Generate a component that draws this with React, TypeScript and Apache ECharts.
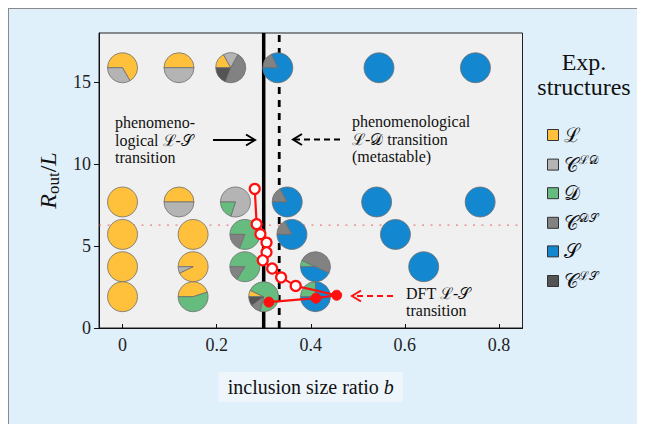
import React, { useEffect, useRef } from "react";
import * as echarts from "echarts";

const FONT = "'Liberation Serif', 'DejaVu Serif', serif";

// Categories (experimental structures)
const categories = ["L", "CLD", "D", "CDS", "S", "CLS"];
const categoryColors = ["#ffc13b", "#b4b4b4", "#66bb7e", "#828282", "#1387cf", "#545454"];
const categoryLabels = [
  "{m|ℒ}",
  "{m|𝒞}{sup|ℒ𝒟}",
  "{m|𝒟}",
  "{m|𝒞}{sup|𝒟𝒮}",
  "{m|𝒮}",
  "{m|𝒞}{sup|ℒ𝒮}",
];

// Pie positions: inclusion size ratio b, R_out/L
const pieB = [0, 0.12, 0.23, 0.33, 0.545, 0.75, 0, 0.12, 0.24, 0.35, 0.54, 0.76, 0, 0.15, 0.26, 0.36, 0.58, 0, 0.15, 0.26, 0.41, 0.64, 0, 0.15, 0.3, 0.41];
const pieR = [15.88, 15.88, 15.88, 15.88, 15.88, 15.88, 7.69, 7.69, 7.69, 7.69, 7.69, 7.69, 5.71, 5.71, 5.71, 5.71, 5.71, 3.74, 3.74, 3.74, 3.74, 3.74, 1.91, 1.91, 1.91, 1.91];

// Pie fractions per structure
const fracL = [0.667, 0.5, 0.17, 0, 0, 0, 1, 0.5, 0, 0, 0, 0, 1, 1, 0, 0, 0, 1, 0.93, 0, 0, 0, 1, 0.45, 0.07, 0];
const fracCLD = [0.333, 0.5, 0.16, 0, 0, 0, 0, 0.5, 0.8, 0, 0, 0, 0, 0, 0, 0, 0, 0, 0.07, 0, 0, 0, 0, 0, 0, 0];
const fracD = [0, 0, 0, 0, 0, 0, 0, 0, 0.2, 0, 0, 0, 0, 0, 0.81, 0, 0, 0, 0, 0.84, 0.07, 0, 0, 0.55, 0.72, 0.25];
const fracCDS = [0, 0, 0.48, 0.18, 0, 0, 0, 0, 0, 0.17, 0, 0, 0, 0, 0.19, 0.17, 0, 0, 0, 0.16, 0.5, 0, 0, 0, 0.11, 0];
const fracS = [0, 0, 0, 0.82, 1, 1, 0, 0, 0, 0.83, 1, 1, 0, 0, 0, 0.83, 1, 0, 0, 0, 0.43, 1, 0, 0, 0, 0.75];
const fracCLS = [0, 0, 0.19, 0, 0, 0, 0, 0, 0, 0, 0, 0, 0, 0, 0, 0, 0, 0, 0, 0, 0, 0, 0, 0, 0.1, 0];

// DFT transition curve
const dftOpenB = [0.281, 0.285, 0.293, 0.306, 0.306, 0.298, 0.318, 0.337, 0.368];
const dftOpenR = [8.49, 6.34, 5.73, 5.21, 4.62, 4.13, 3.63, 3.09, 2.57];
const dftFilledB = [0.455, 0.411, 0.311];
const dftFilledR = [2.0, 1.82, 1.58];

// Transitions and reference line
const solidTransitionB = 0.3;
const dashedTransitionB = 0.333;
const referenceR = 6.28;

// Axes
const xMin = -0.05;
const xMax = 0.85;
const yMin = 0;
const yMax = 18;
const xTicks = [0, 0.2, 0.4, 0.6, 0.8];
const yTicks = [0, 5, 10, 15];

const PIE_RADIUS = 15;

function buildOption() {
  const fracs = [fracL, fracCLD, fracD, fracCDS, fracS, fracCLS];
  const pieSeries = categories.map((cat, k) => {
    const data: number[][] = [];
    pieB.forEach((b, i) => {
      const f = fracs[k][i];
      if (f <= 0) return;
      let total = 0;
      for (let j = 0; j < fracs.length; j++) total += fracs[j][i];
      let start = 0;
      for (let j = 0; j < k; j++) start += fracs[j][i];
      data.push([b, pieR[i], start / total, f / total]);
    });
    return {
      type: "custom",
      name: cat,
      coordinateSystem: "cartesian2d",
      z: 3,
      silent: true,
      itemStyle: { color: categoryColors[k] },
      encode: { x: 0, y: 1 },
      data,
      renderItem: (params: any, api: any) => {
        const c = api.coord([api.value(0), api.value(1)]);
        const s = api.value(2);
        const f = api.value(3);
        return {
          type: "sector",
          shape: {
            cx: c[0],
            cy: c[1],
            r: PIE_RADIUS,
            r0: 0,
            startAngle: Math.PI + s * 2 * Math.PI,
            endAngle: Math.PI + (s + f) * 2 * Math.PI,
            clockwise: true,
          },
          style: { fill: categoryColors[k], stroke: "#6f6f6f", lineWidth: 0.8 },
        };
      },
    };
  });

  const dftData = [
    ...dftOpenB.map((b, i) => ({
      value: [b, dftOpenR[i]],
      itemStyle: { color: "#ffffff", borderColor: "#ff1010", borderWidth: 2.2 },
    })),
    ...dftFilledB.map((b, i) => ({
      value: [b, dftFilledR[i]],
      itemStyle: { color: "#ff1010", borderColor: "#ff1010", borderWidth: 1 },
    })),
  ];

  const textStyleBase = { fontFamily: FONT, fontSize: 16, fill: "#111" };

  return {
    animation: false,
    backgroundColor: "transparent",
    grid: {
      left: 90,
      top: 24,
      width: 423.5,
      height: 295,
      show: true,
      backgroundColor: "#f0f0f0",
      borderColor: "#222",
      borderWidth: 1,
    },
    xAxis: {
      type: "value",
      min: xMin,
      max: xMax,
      name: "inclusion size ratio {i|b}",
      nameLocation: "middle",
      nameGap: 44,
      nameTextStyle: {
        fontFamily: FONT,
        fontSize: 20,
        color: "#111",
        backgroundColor: "#eef6fc",
        padding: [5, 9, 5, 9],
        verticalAlign: "top",
        rich: { i: { fontFamily: FONT, fontSize: 20, fontStyle: "italic", color: "#111" } },
      },
      axisLine: { show: true, onZero: false, lineStyle: { color: "#111", width: 1 } },
      axisTick: { show: true, inside: true, length: 4, customValues: xTicks, lineStyle: { color: "#111" } },
      axisLabel: {
        customValues: xTicks,
        margin: 8,
        fontFamily: FONT,
        fontSize: 18,
        color: "#222",
        formatter: (v: number) => String(Number(v.toFixed(2))),
      },
      splitLine: { show: false },
    },
    yAxis: {
      type: "value",
      min: yMin,
      max: yMax,
      name: "{i|R}{s|out}{n|/}{i|L}",
      nameLocation: "middle",
      nameGap: 36,
      nameTextStyle: {
        fontFamily: FONT,
        color: "#111",
        rich: {
          i: { fontFamily: FONT, fontSize: 24, fontStyle: "italic", lineHeight: 28, color: "#111" },
          n: { fontFamily: FONT, fontSize: 24, lineHeight: 28, color: "#111" },
          s: { fontFamily: FONT, fontSize: 17, lineHeight: 17, verticalAlign: "bottom", color: "#111" },
        },
      },
      axisLine: { show: true, onZero: false, lineStyle: { color: "#111", width: 1 } },
      axisTick: { show: true, inside: false, length: 5, customValues: yTicks, lineStyle: { color: "#111" } },
      axisLabel: { customValues: yTicks, margin: 8, fontFamily: FONT, fontSize: 18, color: "#222" },
      splitLine: { show: false },
    },
    legend: {
      orient: "vertical",
      left: 533,
      top: 111,
      itemWidth: 11,
      itemHeight: 11,
      itemGap: 8.6,
      icon: "rect",
      selectedMode: false,
      data: categories,
      itemStyle: { borderColor: "#333", borderWidth: 1 },
      formatter: (name: string) => categoryLabels[categories.indexOf(name)],
      textStyle: {
        fontFamily: FONT,
        color: "#111",
        rich: {
          m: { fontFamily: FONT, fontSize: 20, lineHeight: 22, color: "#111" },
          sup: { fontFamily: FONT, fontSize: 12, lineHeight: 12, verticalAlign: "top", color: "#111" },
        },
      },
    },
    graphic: [
      {
        type: "text",
        x: 575,
        y: 40,
        style: { text: "Exp.\nstructures", align: "center", fontFamily: FONT, fontSize: 24, lineHeight: 25, fill: "#111" },
      },
      {
        type: "text",
        x: 106,
        y: 104.75,
        style: { ...textStyleBase, text: "phenomeno-\nlogical ℒ-𝒮\ntransition", lineHeight: 17.5 },
      },
      {
        type: "text",
        x: 343,
        y: 103.75,
        style: { ...textStyleBase, text: "phenomenological\nℒ-𝒟 transition\n(metastable)", lineHeight: 17.5 },
      },
      {
        type: "text",
        x: 397,
        y: 275.5,
        style: { ...textStyleBase, text: "DFT ℒ-𝒮\ntransition", lineHeight: 17.5 },
      },
      // solid arrow
      { type: "line", shape: { x1: 204, y1: 131, x2: 245, y2: 131 }, style: { stroke: "#000", lineWidth: 2 } },
      { type: "polyline", shape: { points: [[237, 125.5], [246, 131], [237, 136.5]] }, style: { stroke: "#000", lineWidth: 2, fill: null } },
      // dashed arrow
      { type: "line", shape: { x1: 331, y1: 130.5, x2: 285, y2: 130.5 }, style: { stroke: "#000", lineWidth: 2, lineDash: [6, 4] } },
      { type: "polyline", shape: { points: [[293, 125], [284, 130.5], [293, 136]] }, style: { stroke: "#000", lineWidth: 2, fill: null } },
      // red dashed arrow
      { type: "line", shape: { x1: 384, y1: 287, x2: 344, y2: 287 }, style: { stroke: "#ff1010", lineWidth: 2, lineDash: [6, 4] } },
      { type: "polyline", shape: { points: [[352, 281.5], [343, 287], [352, 292.5]] }, style: { stroke: "#ff1010", lineWidth: 2, fill: null } },
    ],
    series: [
      {
        type: "line",
        name: "ref",
        silent: true,
        z: 1,
        symbol: "none",
        data: [[xMin, referenceR], [xMax, referenceR]],
        lineStyle: { color: "rgba(235,90,90,0.75)", width: 1.2, type: [2, 6.5] },
      },
      {
        type: "line",
        name: "solid",
        silent: true,
        z: 2,
        symbol: "none",
        data: [[solidTransitionB, yMin], [solidTransitionB, yMax]],
        lineStyle: { color: "#000", width: 3.5 },
      },
      {
        type: "line",
        name: "dashed",
        silent: true,
        z: 2,
        symbol: "none",
        data: [[dashedTransitionB, yMin], [dashedTransitionB, yMax]],
        lineStyle: { color: "#000", width: 2.8, type: [7, 6] },
      },
      ...pieSeries,
      {
        type: "line",
        name: "dft",
        silent: true,
        z: 5,
        symbol: "circle",
        symbolSize: 10,
        data: dftData,
        lineStyle: { color: "#ff1010", width: 2.2 },
      },
    ],
  };
}

export default function App() {
  const ref = useRef<HTMLDivElement>(null);
  useEffect(() => {
    if (!ref.current) return;
    const chart = echarts.init(ref.current, undefined, { renderer: "svg" });
    chart.setOption(buildOption() as any);
    return () => chart.dispose();
  }, []);
  return (
    <div
      style={{
        width: 637,
        height: 416,
        boxSizing: "border-box",
        borderTop: "1px solid #8a8a8a",
        borderLeft: "1px solid #8a8a8a",
        background: "#e0f0fb",
        overflow: "hidden",
      }}
    >
      <div ref={ref} style={{ width: 636, height: 415 }} />
    </div>
  );
}
